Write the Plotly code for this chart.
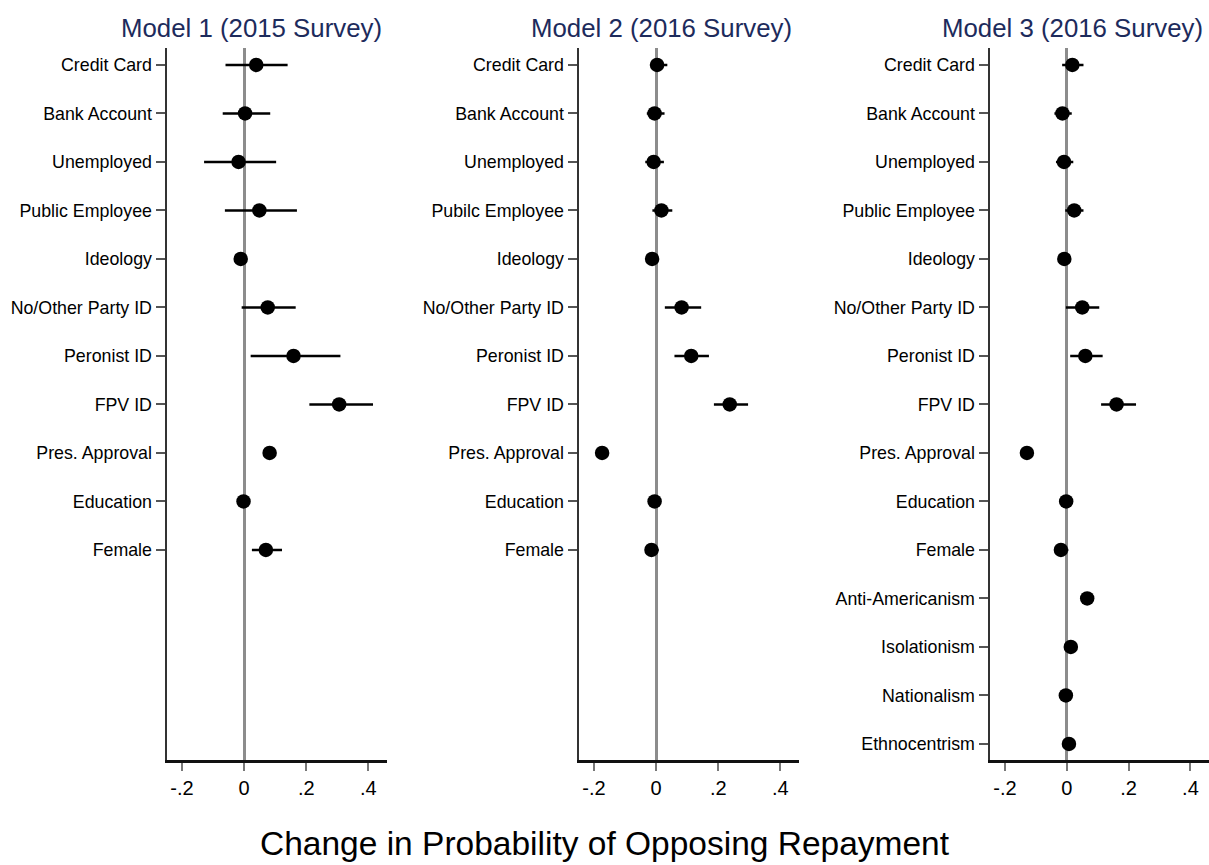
import plotly.graph_objects as go

# Variable labels, top to bottom, for each model
labels_m1 = ["Credit Card", "Bank Account", "Unemployed", "Public Employee", "Ideology",
             "No/Other Party ID", "Peronist ID", "FPV ID", "Pres. Approval", "Education", "Female"]
labels_m2 = ["Credit Card", "Bank Account", "Unemployed", "Pubilc Employee", "Ideology",
             "No/Other Party ID", "Peronist ID", "FPV ID", "Pres. Approval", "Education", "Female"]
labels_m3 = ["Credit Card", "Bank Account", "Unemployed", "Public Employee", "Ideology",
             "No/Other Party ID", "Peronist ID", "FPV ID", "Pres. Approval", "Education", "Female",
             "Anti-Americanism", "Isolationism", "Nationalism", "Ethnocentrism"]

# Marginal effects with lower / upper confidence bounds
est_m1 = [0.039, 0.003, -0.018, 0.049, -0.011, 0.076, 0.159, 0.306, 0.082, -0.002, 0.070]
lo_m1 = [-0.060, -0.069, -0.129, -0.062, -0.020, -0.008, 0.021, 0.210, 0.072, -0.012, 0.025]
hi_m1 = [0.140, 0.084, 0.103, 0.170, -0.002, 0.166, 0.310, 0.415, 0.092, 0.018, 0.122]

est_m2 = [0.003, -0.005, -0.008, 0.017, -0.013, 0.082, 0.113, 0.237, -0.174, -0.005, -0.015]
lo_m2 = [-0.020, -0.030, -0.035, -0.012, -0.020, 0.028, 0.059, 0.186, -0.180, -0.012, -0.035]
hi_m2 = [0.036, 0.027, 0.025, 0.052, -0.006, 0.145, 0.170, 0.296, -0.168, 0.002, 0.008]

est_m3 = [0.018, -0.014, -0.009, 0.024, -0.008, 0.050, 0.060, 0.161, -0.129, -0.002, -0.019,
          0.066, 0.013, -0.003, 0.007]
lo_m3 = [-0.015, -0.040, -0.035, -0.005, -0.015, -0.003, 0.011, 0.111, -0.135, -0.009, -0.040,
         0.060, 0.006, -0.010, 0.000]
hi_m3 = [0.054, 0.016, 0.021, 0.054, -0.001, 0.105, 0.116, 0.224, -0.123, 0.005, 0.005,
         0.072, 0.020, 0.004, 0.014]

titles = ["Model 1 (2015 Survey)", "Model 2 (2016 Survey)", "Model 3 (2016 Survey)"]
x_ticks = [-0.2, 0, 0.2, 0.4]
x_ticktext = ["-.2", "0", ".2", ".4"]
x_title = "Change in Probability of Opposing Repayment"

W, H = 1209, 865
FONT = "Liberation Sans, Arial, Helvetica, sans-serif"

models = [(labels_m1, est_m1, lo_m1, hi_m1),
          (labels_m2, est_m2, lo_m2, hi_m2),
          (labels_m3, est_m3, lo_m3, hi_m3)]

# Panel placement in pixels (left, right)
panel_px = [(166.5, 387.0), (578.5, 799.0), (989.5, 1209.0)]
y_dom = [(H - 760) / H, (H - 48) / H]
title_x = [251, 661, 1072]

fig = go.Figure()

for i, (labs, est, lo, hi) in enumerate(models):
    n = i + 1
    xa = "x" if n == 1 else f"x{n}"
    ya = "y" if n == 1 else f"y{n}"
    rows = list(range(1, len(labs) + 1))
    fig.add_trace(go.Scatter(
        x=est, y=rows, xaxis=xa, yaxis=ya, mode="markers",
        marker=dict(color="black", size=14.5),
        error_x=dict(type="data", symmetric=False,
                     array=[h - e for h, e in zip(hi, est)],
                     arrayminus=[e - l for e, l in zip(est, lo)],
                     color="black", thickness=2.5, width=0),
        showlegend=False, hoverinfo="skip",
    ))

    l, r = panel_px[i]
    xkey = "xaxis" if n == 1 else f"xaxis{n}"
    ykey = "yaxis" if n == 1 else f"yaxis{n}"
    fig.update_layout(**{
        xkey: dict(domain=[l / W, min(r / W, 1.0)], range=[-0.25, 0.46], anchor=ya,
                   tickvals=x_ticks, ticktext=x_ticktext,
                   showgrid=False, zeroline=True, zerolinecolor="#8c8c8c", zerolinewidth=2.5,
                   showline=True, linecolor="#111111", linewidth=2.5,
                   ticks="outside", ticklen=8, tickwidth=2, tickcolor="#777777",
                   tickfont=dict(family=FONT, size=20, color="#000000"),
                   automargin=False, fixedrange=True),
        ykey: dict(domain=list(y_dom), range=[15.33, 0.65], anchor=xa,
                   tickvals=rows, ticktext=labs,
                   showgrid=False, zeroline=False,
                   showline=True, linecolor="#333333", linewidth=2,
                   ticks="outside", ticklen=9, tickwidth=2, tickcolor="#555555",
                   tickfont=dict(family=FONT, size=17.8, color="#000000"),
                   automargin=False, fixedrange=True),
    })

    fig.add_annotation(text=titles[i], x=title_x[i] / W, y=(H - 28) / H,
                       xref="paper", yref="paper", xanchor="center", yanchor="middle",
                       showarrow=False,
                       font=dict(family=FONT, size=25.8, color="#1d2b5c"))

fig.add_annotation(text=x_title, x=605 / W, y=(H - 843) / H,
                   xref="paper", yref="paper", xanchor="center", yanchor="middle",
                   showarrow=False,
                   font=dict(family=FONT, size=33.5, color="#000000"))

fig.update_layout(width=W, height=H, margin=dict(l=0, r=0, t=0, b=0),
                  paper_bgcolor="white", plot_bgcolor="white")

fig.write_html("out.html")
